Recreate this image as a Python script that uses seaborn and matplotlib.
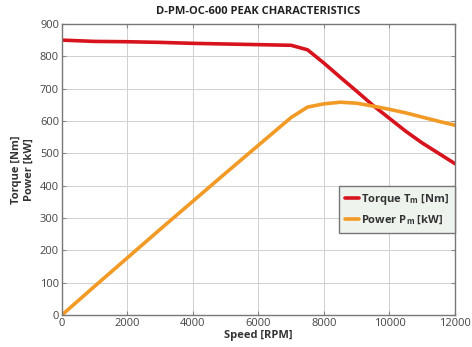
import matplotlib
matplotlib.use("Agg")
import matplotlib.pyplot as plt
import pandas as pd
import seaborn as sns

speed = [0, 1000, 2000, 3000, 4000, 5000, 6000, 7000, 7500, 8000, 8500,
         9000, 9500, 10000, 10500, 11000, 11500, 12000]
torque = [850, 846, 845, 843, 840, 838, 836, 834, 820, 779, 735,
          692, 648, 608, 568, 532, 500, 468]
power = [0, 89, 177, 265, 352, 439, 525, 611, 643, 653, 658,
         655, 646, 636, 625, 612, 599, 587]

x_ticks = [0, 2000, 4000, 6000, 8000, 10000, 12000]
y_ticks = [0, 100, 200, 300, 400, 500, 600, 700, 800, 900]


def main():
    sns.set_style("whitegrid")
    plt.rcParams["font.family"] = ["Open Sans", "DejaVu Sans"]

    df = pd.DataFrame({"Speed": speed, "Torque": torque, "Power": power})

    fig = plt.figure(figsize=(4.72, 3.47), dpi=100)
    ax = fig.add_axes([0.131, 0.092, 0.833, 0.839])

    sns.lineplot(x="Speed", y="Torque", data=df, ax=ax, color="#d7141e",
                 linewidth=2.6, label=r"Torque T$_\mathregular{m}$ [Nm]")
    sns.lineplot(x="Speed", y="Power", data=df, ax=ax, color="#f29a26",
                 linewidth=2.6, label=r"Power P$_\mathregular{m}$ [kW]")

    ax.set_xlim(0, 12000)
    ax.set_ylim(0, 900)
    ax.set_xticks(x_ticks)
    ax.set_yticks(y_ticks)
    ax.tick_params(direction="in", length=3, colors="#888888",
                   labelcolor="#444444", labelsize=8, top=True, right=True,
                   bottom=True, left=True, pad=2)
    ax.grid(True, color="#d0d0d0", linewidth=0.7)
    for s in ax.spines.values():
        s.set_color("#777777")
        s.set_linewidth(1.0)

    ax.set_xlabel("Speed [RPM]", fontsize=8, fontweight="bold",
                  color="#333333", labelpad=1)
    ax.set_ylabel("Torque [Nm]\nPower [kW]", fontsize=8, fontweight="bold",
                  color="#333333", labelpad=4)
    ax.set_title("D-PM-OC-600 PEAK CHARACTERISTICS", fontsize=8,
                 fontweight="bold", color="#222222", pad=7)

    leg = ax.legend(loc="lower right", bbox_to_anchor=(1.0, 0.283),
                    fontsize=8, frameon=True, fancybox=False,
                    handlelength=1.3, handletextpad=0.2, borderpad=0.5,
                    labelspacing=0.6, borderaxespad=0)
    leg.get_frame().set_facecolor("#eef3ee")
    leg.get_frame().set_edgecolor("#777777")
    leg.get_frame().set_alpha(1)
    for t in leg.get_texts():
        t.set_fontweight("bold")
        t.set_color("#333333")

    fig.savefig("out.png", dpi=100)


if __name__ == "__main__":
    main()
